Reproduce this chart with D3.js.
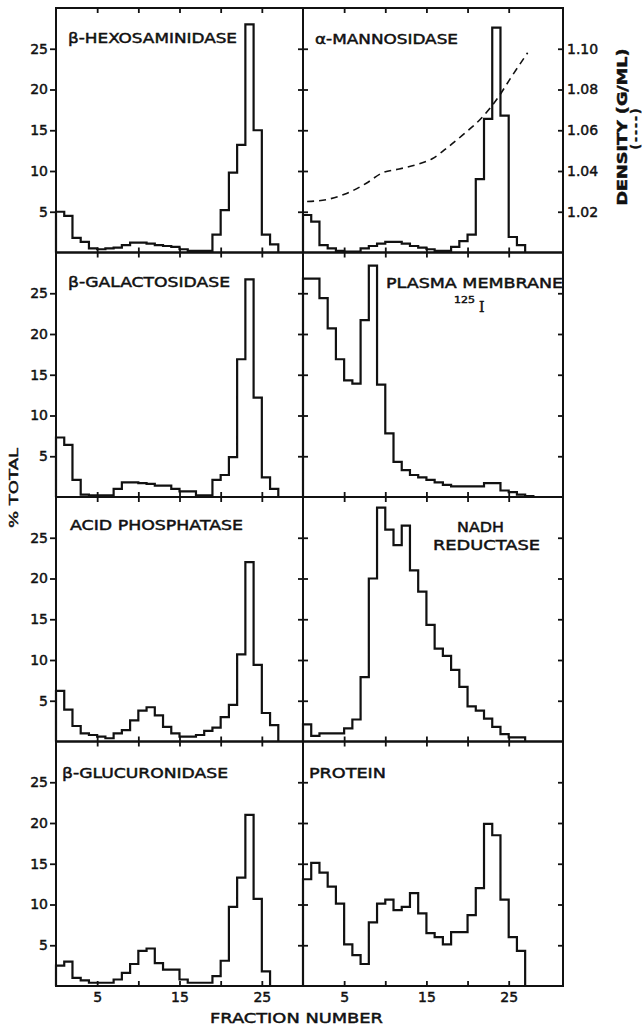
<!DOCTYPE html>
<html>
<head>
<meta charset="utf-8">
<script src="https://cdn.jsdelivr.net/npm/d3@7"></script>
<style>
body { margin: 0; background: #fff; }
svg text { font-family: "DejaVu Sans", sans-serif; fill: #111; stroke: #111; stroke-width: 0.45px; }
</style>
</head>
<body>
<div id="chart"></div>
<script>
// tick values
var fractionTicks = [5, 10, 15, 20, 25];
var fractionLabels = [5, 15, 25];
var percentTicks = [5, 10, 15, 20, 25];
var densityTicks = [1.02, 1.04, 1.06, 1.08, 1.10];

// % total per fraction (bar i spans fraction i..i+1)
var hexosaminidase = [5.0, 4.5, 1.8, 1.3, 0.5, 0.4, 0.5, 0.6, 0.9, 1.2, 1.2, 1.1, 0.9, 0.8, 0.7, 0.4, 0.2, 0.2, 0.2, 2.2, 5.2, 9.8, 13.2, 28.0, 15.0, 2.2, 1.0];
var mannosidase = [4.6, 3.8, 0.9, 0.5, 0.2, 0.1, 0.1, 0.5, 0.8, 1.1, 1.3, 1.3, 1.1, 0.8, 0.6, 0.4, 0.2, 0.2, 0.7, 1.4, 2.2, 9.0, 16.4, 27.6, 16.8, 1.9, 0.9];
var galactosidase = [7.3, 6.4, 2.1, 0.3, 0.2, 0.2, 0.2, 1.0, 1.8, 1.8, 1.7, 1.6, 1.4, 1.4, 1.0, 0.7, 0.7, 0.2, 0.2, 2.1, 2.7, 4.9, 16.9, 26.7, 12.2, 2.4, 1.0];
var plasmaMembrane = [26.8, 26.8, 24.4, 20.7, 16.9, 14.3, 13.9, 21.7, 28.4, 13.8, 7.8, 4.3, 3.3, 2.7, 2.4, 2.1, 1.8, 1.5, 1.3, 1.3, 1.3, 1.3, 1.7, 1.7, 0.8, 0.6, 0.3, 0.1];
var acidPhosphatase = [6.2, 3.9, 1.9, 1.0, 0.8, 0.6, 0.4, 1.0, 1.4, 2.6, 3.8, 4.2, 3.2, 1.8, 1.0, 0.6, 0.6, 0.8, 1.3, 1.7, 3.0, 4.5, 10.7, 22.0, 9.4, 3.5, 2.0];
var nadhReductase = [2.1, 0.7, 1.0, 1.0, 1.0, 1.6, 2.7, 7.9, 20.0, 28.7, 26.0, 24.1, 26.5, 21.0, 18.4, 14.3, 11.4, 10.5, 8.8, 6.7, 4.3, 3.8, 2.8, 1.8, 0.9, 0.5, 0.5];
var glucuronidase = [2.5, 3.0, 1.0, 0.7, 0.4, 0.4, 0.4, 0.8, 1.6, 2.7, 4.3, 4.6, 2.8, 2.0, 2.0, 0.8, 0.4, 0.4, 0.4, 1.2, 3.1, 9.7, 13.3, 21.0, 10.7, 1.8];
var protein = [13.1, 15.1, 13.9, 12.2, 10.1, 5.1, 3.8, 2.7, 7.8, 10.1, 10.6, 9.3, 9.7, 11.4, 8.9, 6.5, 6.0, 5.1, 6.6, 6.6, 8.7, 12.0, 19.9, 18.5, 10.6, 6.0, 4.3];

// gradient density (dashed curve, top right panel)
var densityFraction = [0.5, 2.9, 5.3, 7.7, 9.6, 11.7, 13.7, 15.7, 17.7, 19.8, 21.7, 23.7, 25.3, 27.3];
var densityValue = [1.025, 1.026, 1.029, 1.034, 1.039, 1.041, 1.043, 1.046, 1.052, 1.059, 1.066, 1.076, 1.086, 1.098];

var W = 644, H = 1027;
var left = 56, mid = 303, right = 563;
var topY = 8, rowH = 244.5;
var ink = "#111";

var panels = [
    {title: "β-HEXOSAMINIDASE", values: hexosaminidase, col: 0, row: 0, tx: 68, ty: 43, tw: 169},
    {title: "α-MANNOSIDASE", values: mannosidase, col: 1, row: 0, tx: 315, ty: 44, tw: 143},
    {title: "β-GALACTOSIDASE", values: galactosidase, col: 0, row: 1, tx: 68, ty: 287, tw: 162},
    {title: "PLASMA MEMBRANE", values: plasmaMembrane, col: 1, row: 1, tx: 386, ty: 288, tw: 177},
    {title: "ACID PHOSPHATASE", values: acidPhosphatase, col: 0, row: 2, tx: 70, ty: 530, tw: 173},
    {title: "NADH", values: nadhReductase, col: 1, row: 2, tx: 457, ty: 532, tw: 47},
    {title: "β-GLUCURONIDASE", values: glucuronidase, col: 0, row: 3, tx: 62, ty: 778, tw: 166},
    {title: "PROTEIN", values: protein, col: 1, row: 3, tx: 309, ty: 778, tw: 77}
];

var svg = d3.select("#chart").append("svg")
    .attr("width", W)
    .attr("height", H);

var xLeft = d3.scaleLinear().domain([0, 30]).range([left, mid]);
var xRight = d3.scaleLinear().domain([0, 31.6]).range([mid, right]);

function yScaleFor(row) {
    return d3.scaleLinear().domain([0, 30])
        .range([topY + (row + 1) * rowH, topY + row * rowH]);
}

function cleanAxis(g, size) {
    g.select(".domain").remove();
    g.attr("color", ink);
    g.selectAll("line").attr("stroke-width", 1.8);
    g.selectAll("text")
        .style("font-family", '"DejaVu Sans", sans-serif')
        .style("font-size", (size || 14) + "px");
}

panels.forEach(function (p) {
    var x = p.col === 0 ? xLeft : xRight;
    var y = yScaleFor(p.row);
    var x0 = x.range()[0], x1 = x.range()[1];
    var yTop = y.range()[1], yBot = y.range()[0];

    var g = svg.append("g");

    // top edge ticks (inward)
    g.append("g")
        .attr("transform", `translate(0, ${yTop})`)
        .call(d3.axisBottom(x).tickValues(fractionTicks).tickSize(5).tickFormat(""))
        .call(cleanAxis);

    // bottom edge ticks (inward)
    g.append("g")
        .attr("transform", `translate(0, ${yBot})`)
        .call(d3.axisTop(x).tickValues(fractionTicks).tickSize(5).tickFormat(""))
        .call(cleanAxis);

    if (p.col === 0) {
        g.append("g")
            .attr("transform", `translate(${x0}, 0)`)
            .call(d3.axisLeft(y).tickValues(percentTicks).tickSize(6).tickPadding(2))
            .call(cleanAxis);
        g.append("g")
            .attr("transform", `translate(${x1}, 0)`)
            .call(d3.axisLeft(y).tickValues(percentTicks).tickSize(5).tickFormat(""))
            .call(cleanAxis);
    } else {
        g.append("g")
            .attr("transform", `translate(${x0}, 0)`)
            .call(d3.axisRight(y).tickValues(percentTicks).tickSize(5).tickFormat(""))
            .call(cleanAxis);
        g.append("g")
            .attr("transform", `translate(${x1}, 0)`)
            .call(d3.axisLeft(y).tickValues(percentTicks).tickSize(5).tickFormat(""))
            .call(cleanAxis);
    }

    if (p.row === 3) {
        g.append("g")
            .attr("transform", `translate(0, ${yBot})`)
            .call(d3.axisBottom(x).tickValues(fractionLabels).tickSize(0).tickPadding(6))
            .call(cleanAxis);
    }

    // frame
    g.append("rect")
        .attr("x", x0).attr("y", yTop)
        .attr("width", x1 - x0).attr("height", yBot - yTop)
        .attr("fill", "none")
        .attr("stroke", ink)
        .attr("stroke-width", 2);

    // step histogram
    var pts = [[0, 0]];
    p.values.forEach(function (v, i) {
        pts.push([i, v]);
        pts.push([i + 1, v]);
    });
    pts.push([p.values.length, 0]);

    var line = d3.line()
        .x(d => x(d[0]))
        .y(d => y(d[1]));

    g.append("path")
        .attr("d", line(pts))
        .attr("fill", "none")
        .attr("stroke", ink)
        .attr("stroke-width", 2.2)
        .attr("stroke-linejoin", "miter");

    g.append("text")
        .attr("x", p.tx)
        .attr("y", p.ty)
        .attr("textLength", p.tw)
        .attr("lengthAdjust", "spacingAndGlyphs")
        .style("font-size", "13.5px")
        .text(p.title);
});

// extra label lines
svg.append("text")
    .attr("x", 433).attr("y", 550)
    .attr("textLength", 107)
    .attr("lengthAdjust", "spacingAndGlyphs")
    .style("font-size", "13.5px")
    .text("REDUCTASE");

svg.append("text")
    .attr("x", 454).attr("y", 303)
    .attr("textLength", 21)
    .attr("lengthAdjust", "spacingAndGlyphs")
    .style("font-size", "9px")
    .text("125");

svg.append("text")
    .attr("x", 479).attr("y", 312)
    .style("font-family", '"DejaVu Serif", serif')
    .style("font-size", "14px")
    .text("I");

// density axis & curve (top right panel)
var yDensity = d3.scaleLinear().domain([1.0, 1.12])
    .range([topY + rowH, topY]);

svg.append("g")
    .attr("transform", `translate(${right}, 0)`)
    .call(d3.axisRight(yDensity).tickValues(densityTicks).tickSize(0).tickPadding(4)
        .tickFormat(d3.format(".2f")))
    .call(cleanAxis);

var densityLine = d3.line()
    .x((d, i) => xRight(densityFraction[i]))
    .y(d => yDensity(d))
    .curve(d3.curveMonotoneX);

svg.append("path")
    .attr("d", densityLine(densityValue))
    .attr("fill", "none")
    .attr("stroke", ink)
    .attr("stroke-width", 1.6)
    .attr("stroke-dasharray", "7,5");

svg.append("text")
    .attr("transform", "translate(627, 127) rotate(-90)")
    .attr("text-anchor", "middle")
    .attr("textLength", 157)
    .attr("lengthAdjust", "spacingAndGlyphs")
    .style("font-size", "14px")
    .style("font-weight", "bold")
    .text("DENSITY (G/ML)");

svg.append("text")
    .attr("transform", "translate(640, 128) rotate(-90)")
    .attr("text-anchor", "middle")
    .style("font-size", "12px")
    .style("letter-spacing", "2px")
    .style("font-weight", "bold")
    .text("(----)");

// axis titles
svg.append("text")
    .attr("transform", "translate(18, 488) rotate(-90)")
    .attr("text-anchor", "middle")
    .attr("textLength", 80)
    .attr("lengthAdjust", "spacingAndGlyphs")
    .style("font-size", "13px")
    .text("% TOTAL");

svg.append("text")
    .attr("x", 296.5)
    .attr("y", 1023)
    .attr("text-anchor", "middle")
    .attr("textLength", 173)
    .attr("lengthAdjust", "spacingAndGlyphs")
    .style("font-size", "13.5px")
    .text("FRACTION NUMBER");
</script>
</body>
</html>
